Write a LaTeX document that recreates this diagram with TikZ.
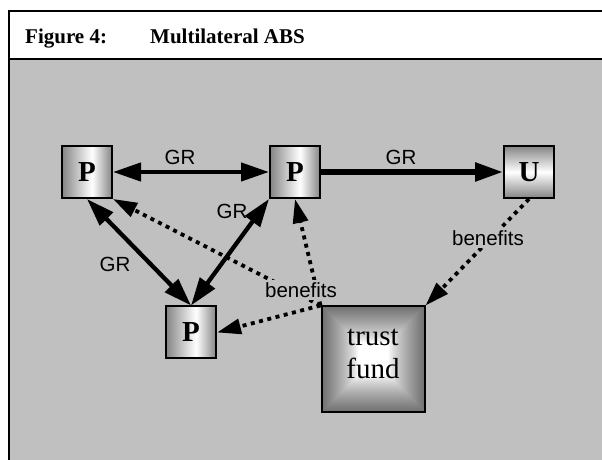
\documentclass[tikz,border=0pt]{standalone}
\usepackage{fontspec}
\setmainfont{Liberation Serif}
\newfontfamily\lsans{Liberation Sans}
\usetikzlibrary{arrows.meta}
\definecolor{canvas}{HTML}{C0C0C0}
\definecolor{edgegray}{HTML}{858585}
\definecolor{tfgray}{HTML}{6E6E6E}
\pgfdeclarehorizontalshading{pshade}{100bp}{color(0bp)=(edgegray); color(25bp)=(edgegray); color(55bp)=(white); color(75bp)=(edgegray); color(100bp)=(edgegray)}
\pgfdeclarelayer{background}
\pgfsetlayers{background,main}
\tikzset{
  boxbase/.style={draw, line width=2pt, inner sep=0pt,
    minimum width=50pt, minimum height=52pt,
    font=\fontsize{29}{32}\selectfont\bfseries},
  pbox/.style={boxbase, shade, shading=pshade},
  ubox/.style={boxbase, top color=edgegray, bottom color=edgegray, middle color=white},
  tfbox/.style={draw, line width=2pt, inner sep=0pt,
    minimum width=103pt, minimum height=106pt, align=center,
    font=\fontsize{29}{33}\selectfont},
  grlab/.style={font=\lsans\fontsize{20.5}{23}\selectfont, inner sep=0pt},
  benlab/.style={font=\lsans\fontsize{20.5}{23}\selectfont, fill=canvas, inner sep=2.5pt},
  head/.style={font=\fontsize{21}{24}\selectfont\bfseries, inner sep=0pt, anchor=base west},
  gtip/.tip={Triangle[length=28pt,width=18pt]},
  btip/.tip={Triangle[length=24pt,width=15pt]},
  grline/.style={line width=4.3pt},
  benline/.style={line width=3.8pt, dash pattern=on 4pt off 4.5pt, -{btip}},
  frameline/.style={line width=2pt}
}
\begin{document}
\begin{tikzpicture}[x=1pt,y=1pt]
\useasboundingbox (0,0) rectangle (602,460);
% frame
\begin{pgfonlayer}{background}
\fill[white] (0,0) rectangle (602,460);
\fill[canvas] (9,401) rectangle (604,-2);
\end{pgfonlayer}
\draw[frameline] (604,448.5) -- (9,448.5) -- (9,-2);
\draw[line width=2.5pt] (9,401) -- (604,401);
\node[head] (fig) at (25,416) {Figure 4:};
\node[head] (title) at (150,416) {Multilateral ABS};
% nodes
\node[pbox] (P1) at (87,288) {P};
\node[pbox] (P2) at (295,288) {P};
\node[ubox] (U) at (529,288) {U};
\node[pbox] (P3) at (191,127.5) {P};
\node[tfbox] (TF) at (373,100.5) {trust\\fund\rule[-12pt]{0pt}{0pt}};
\begin{pgfonlayer}{background}
  \foreach \i in {0,1,...,37} {
    \pgfmathsetmacro\pct{100*(1-\i/37)^0.75}
    \fill[tfgray!\pct!white] ([shift={(\i,-\i)}]TF.north west) rectangle ([shift={(-\i,\i)}]TF.south east);
  }
\end{pgfonlayer}
% GR arrows
\draw[grline, {gtip}-{gtip}] (P1.east) -- (P2.west);
\draw[line width=5.5pt, -{gtip}] (P2.east) -- (U.west);
\draw[grline, {gtip}-{gtip}] (P1.south) -- (P3.north);
\draw[grline, {gtip}-{gtip}] (P2.south west) -- (P3.north);
\node[grlab] (gr1) at (180,303) {GR};
\node[grlab] (gr2) at (401,303) {GR};
\node[grlab] (gr3) at (115,196) {GR};
\node[grlab] (gr4) at (232,249) {GR};
% benefits arrows
\draw[benline] (TF.north west) -- (P1.south east);
\draw[benline] (TF.north west) -- (P2.south);
\draw[benline] (TF.north west) -- (P3.east);
\draw[benline] (U.south) -- (TF.north east);
\node[benlab] (b1) at (301,170) {benefits};
\node[benlab] (b2) at (488,222) {benefits};
\end{tikzpicture}
\end{document}
